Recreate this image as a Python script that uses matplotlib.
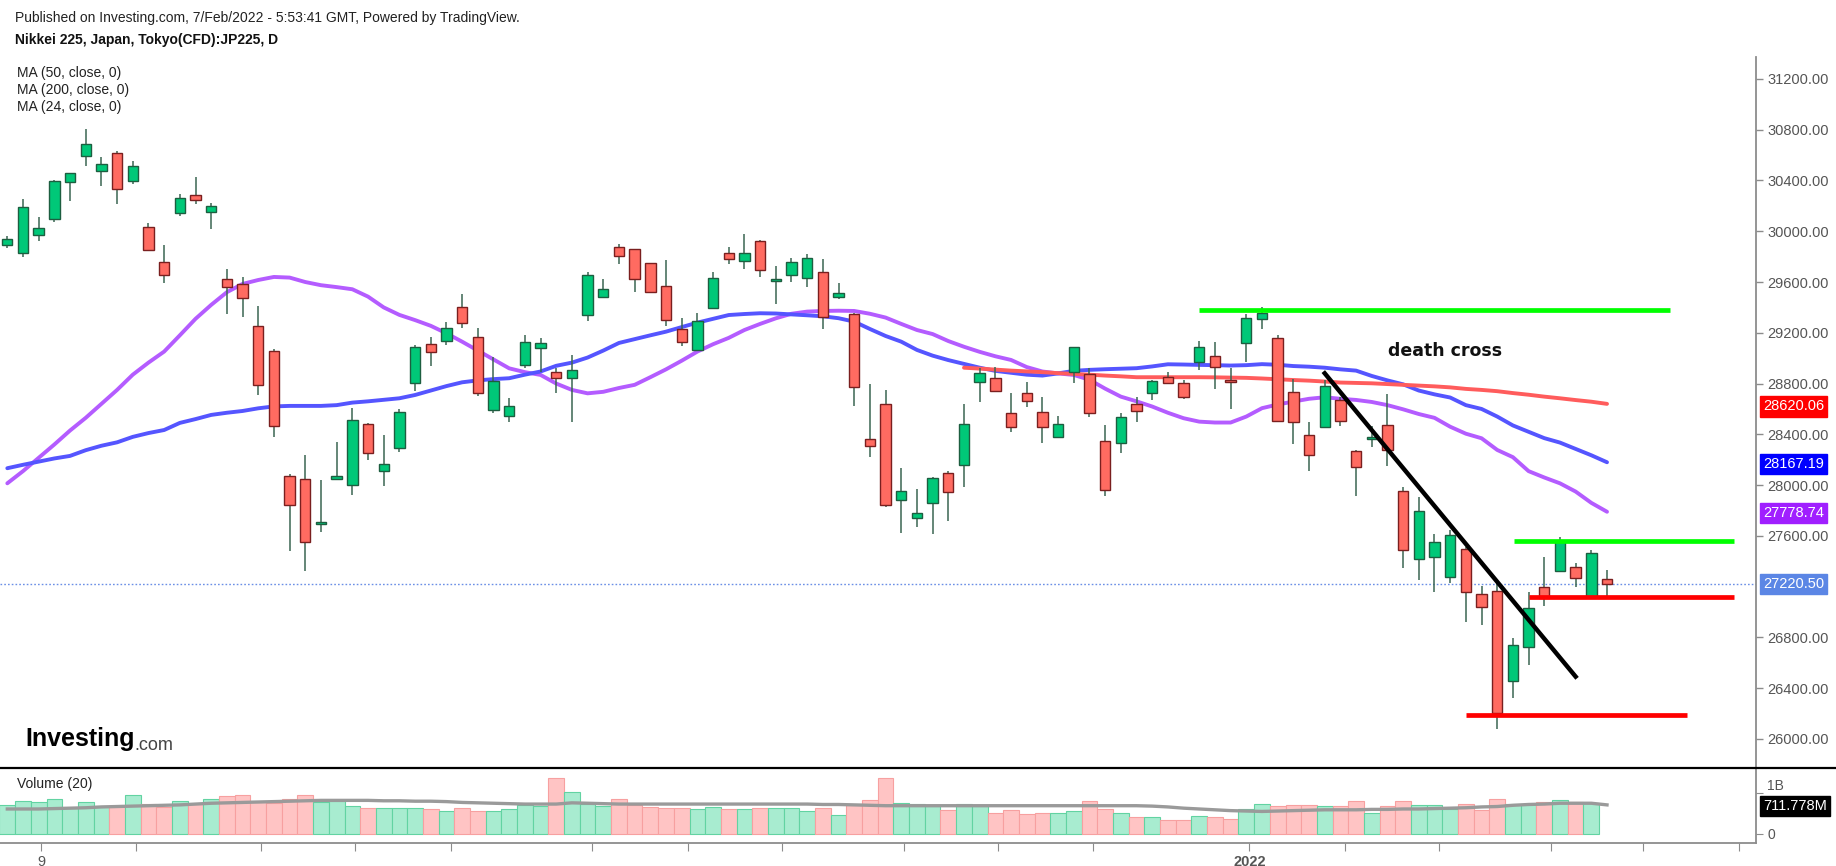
import matplotlib
matplotlib.use("Agg")
import matplotlib.pyplot as plt
from matplotlib.lines import Line2D

plt.rcParams['font.family'] = ['Liberation Sans', 'DejaVu Sans']

# daily candles, Nikkei 225 CFD
opens = [
    29892, 29832, 29971, 30099, 30386, 30593, 30475, 30614, 30396, 30031,
    29755, 30147, 30286, 30149, 29627, 29582, 29256, 29057, 28072, 28051,
    27690, 28051, 28001, 28479, 28114, 28290, 28802, 29109, 29136, 29403,
    29165, 28592, 28545, 28947, 29078, 28889, 28842, 29341, 29480, 29874,
    29858, 29748, 29569, 29228, 29065, 29393, 29826, 29766, 29923, 29611,
    29656, 29629, 29679, 29480, 29346, 28361, 28636, 27883, 27738, 27862,
    28093, 28158, 28810, 28842, 28566, 28724, 28574, 28377, 28889, 28873,
    28348, 28330, 28637, 28724, 28850, 28803, 28968, 29018, 28820, 29118,
    29307, 29157, 28732, 28395, 28461, 28671, 28269, 28361, 28474, 27954,
    27421, 27431, 27279, 27494, 27140, 27166, 26460, 26722, 27195, 27324,
    27353, 27121, 27262]
highs = [
    29960, 30252, 30115, 30404, 30462, 30803, 30588, 30635, 30556, 30063,
    29892, 30294, 30430, 30220, 29700, 29642, 29414, 29070, 28085, 28235,
    28040, 28342, 28605, 28487, 28395, 28597, 29104, 29170, 29288, 29503,
    29235, 29012, 28684, 29183, 29157, 28920, 29025, 29682, 29621, 29900,
    29860, 29750, 29774, 29319, 29354, 29682, 29879, 29979, 29931, 29729,
    29787, 29821, 29779, 29590, 29354, 28797, 28749, 28132, 27967, 28060,
    28114, 28639, 28921, 28934, 28724, 28816, 28697, 28548, 29091, 28921,
    28474, 28566, 28697, 28830, 28894, 28829, 29139, 29131, 28926, 29349,
    29406, 29183, 28834, 28500, 28828, 28697, 28277, 28466, 28718, 27988,
    27909, 27613, 27647, 27515, 27208, 27240, 26793, 27161, 27437, 27589,
    27384, 27489, 27332]
lows = [
    29870, 29800, 29926, 30076, 30241, 30514, 30359, 30215, 30373, 29847,
    29595, 30120, 30215, 30018, 29348, 29327, 28710, 28377, 27484, 27326,
    27633, 28045, 27922, 28198, 27990, 28264, 28744, 28941, 29101, 29241,
    28705, 28571, 28500, 28920, 28894, 28723, 28500, 29293, 29475, 29742,
    29524, 29515, 29256, 29099, 29060, 29388, 29742, 29703, 29643, 29427,
    29603, 29564, 29230, 29467, 28626, 28219, 27830, 27625, 27673, 27615,
    27720, 27988, 28653, 28740, 28422, 28619, 28335, 28375, 28808, 28535,
    27918, 28256, 28500, 28671, 28798, 28679, 28908, 28755, 28600, 28973,
    29230, 28500, 28325, 28114, 28455, 28466, 27917, 28303, 28153, 27350,
    27253, 27161, 27232, 26924, 26898, 26079, 26326, 26583, 27051, 27318,
    27200, 27114, 27116]
closes = [
    29937, 30194, 30023, 30399, 30457, 30685, 30527, 30336, 30514, 29853,
    29656, 30260, 30247, 30202, 29558, 29472, 28789, 28466, 27843, 27549,
    27698, 28072, 28513, 28251, 28164, 28579, 29091, 29046, 29235, 29275,
    28723, 28823, 28624, 29125, 29117, 28842, 28907, 29656, 29543, 29805,
    29624, 29519, 29301, 29125, 29293, 29629, 29784, 29826, 29695, 29614,
    29761, 29787, 29322, 29511, 28771, 28308, 27843, 27956, 27778, 28053,
    27948, 28479, 28881, 28742, 28456, 28663, 28456, 28480, 29086, 28566,
    27962, 28540, 28585, 28821, 28803, 28692, 29086, 28929, 28812, 29315,
    29354, 28508, 28495, 28237, 28781, 28505, 28140, 28364, 28277, 27489,
    27796, 27550, 27607, 27156, 27037, 26202, 26741, 27030, 27108, 27560,
    27266, 27463, 27220.5]

# moving averages as drawn on the chart
ma24 = [
    28014, 28110, 28215, 28320, 28430, 28530, 28640, 28750, 28870, 28965,
    29052, 29180, 29310, 29420, 29520, 29585, 29616, 29640, 29635, 29600,
    29575, 29560, 29543, 29485, 29400, 29341, 29300, 29255, 29196, 29130,
    29060, 28990, 28920, 28890, 28868, 28800, 28750, 28723, 28735, 28765,
    28790, 28850, 28912, 28980, 29052, 29110, 29160, 29222, 29270, 29314,
    29350, 29367, 29372, 29374, 29372, 29350, 29320, 29270, 29222, 29190,
    29135, 29090, 29050, 29015, 28986, 28930, 28895, 28880, 28868, 28830,
    28760, 28697, 28660, 28619, 28570, 28527, 28500, 28493, 28493, 28540,
    28606, 28635, 28658, 28680, 28692, 28680, 28671, 28655, 28630, 28597,
    28560, 28530, 28460, 28405, 28369, 28277, 28220, 28110, 28060, 28014,
    27949, 27860, 27790]
ma50 = [
    28133, 28160, 28185, 28210, 28230, 28275, 28310, 28337, 28380, 28410,
    28434, 28490, 28520, 28553, 28570, 28584, 28605, 28620, 28624, 28624,
    28624, 28630, 28650, 28660, 28672, 28684, 28710, 28745, 28780, 28810,
    28825, 28835, 28842, 28870, 28895, 28940, 28965, 29005, 29060, 29120,
    29150, 29180, 29209, 29245, 29280, 29310, 29340, 29348, 29354, 29352,
    29345, 29338, 29330, 29315, 29288, 29230, 29175, 29130, 29065, 29020,
    28985, 28955, 28925, 28900, 28885, 28870, 28863, 28880, 28900, 28908,
    28913, 28917, 28921, 28935, 28952, 28950, 28947, 28945, 28942, 28945,
    28953, 28948, 28938, 28933, 28925, 28912, 28902, 28860, 28825, 28794,
    28745, 28715, 28690, 28630, 28600, 28540, 28470, 28420, 28370, 28335,
    28285, 28235, 28180]
ma200_start = 61
ma200 = [
    28925, 28918, 28910, 28902, 28896, 28890, 28882, 28876, 28870, 28863,
    28857, 28850, 28850, 28850, 28850, 28850, 28849, 28847, 28845, 28840,
    28834, 28828, 28823, 28816, 28808, 28805, 28802, 28796, 28790, 28784,
    28778, 28770, 28758, 28750, 28740, 28725, 28712, 28697, 28684, 28670,
    28657, 28640]

# volume in billions, and its 20-day average
volumes = [
    0.712, 0.816, 0.776, 0.864, 0.632, 0.776, 0.672, 0.672, 0.952, 0.736,
    0.648, 0.808, 0.728, 0.864, 0.928, 0.96, 0.816, 0.744, 0.864, 0.96,
    0.776, 0.808, 0.68, 0.624, 0.624, 0.624, 0.624, 0.6, 0.568, 0.624,
    0.568, 0.568, 0.6, 0.712, 0.672, 1.376, 1.016, 0.736, 0.672, 0.864,
    0.712, 0.656, 0.624, 0.624, 0.6, 0.656, 0.6, 0.6, 0.624, 0.624,
    0.624, 0.568, 0.643, 0.468, 0.722, 0.833, 1.365, 0.762, 0.730, 0.683,
    0.595, 0.730, 0.675, 0.524, 0.595, 0.492, 0.524, 0.524, 0.563, 0.802,
    0.619, 0.524, 0.413, 0.413, 0.349, 0.349, 0.444, 0.413, 0.373, 0.619,
    0.730, 0.683, 0.706, 0.706, 0.675, 0.675, 0.802, 0.524, 0.675, 0.802,
    0.706, 0.706, 0.603, 0.730, 0.595, 0.849, 0.730, 0.730, 0.770, 0.825,
    0.770, 0.762]
vol_ma = [
    0.61, 0.61, 0.61, 0.62, 0.63, 0.64, 0.66, 0.67, 0.68, 0.69,
    0.70, 0.71, 0.73, 0.75, 0.76, 0.77, 0.78, 0.79, 0.80, 0.81,
    0.82, 0.82, 0.82, 0.82, 0.81, 0.81, 0.80, 0.80, 0.79, 0.77,
    0.76, 0.75, 0.74, 0.73, 0.73, 0.73, 0.76, 0.75, 0.74, 0.73,
    0.73, 0.73, 0.73, 0.73, 0.73, 0.73, 0.73, 0.73, 0.73, 0.73,
    0.73, 0.73, 0.72, 0.72, 0.71, 0.70, 0.69, 0.69, 0.69, 0.69,
    0.69, 0.69, 0.69, 0.69, 0.69, 0.69, 0.69, 0.69, 0.69, 0.69,
    0.69, 0.69, 0.69, 0.68, 0.66, 0.63, 0.61, 0.59, 0.57, 0.56,
    0.55, 0.56, 0.57, 0.58, 0.59, 0.59, 0.59, 0.60, 0.60, 0.61,
    0.61, 0.62, 0.63, 0.64, 0.66, 0.67, 0.70, 0.72, 0.73, 0.75,
    0.75, 0.75, 0.71]

# drawn annotations: horizontal levels (start bar, end bar, price, colour)
level_start = [76.0, 96.05, 97.05, 93.0]
level_end = [106.0, 110.1, 110.1, 107.1]
level_price = [29380, 27563, 27118, 26189]
level_color = ['#00ff00', '#00ff00', '#ff0000', '#ff0000']
trend_x = [84.0, 100.0]
trend_y = [28881, 26491]

last_price = 27220.5
price_ticks = [26000, 26400, 26800, 27600, 28000, 28400, 28800,
               29200, 29600, 30000, 30400, 30800, 31200]
date_tick_pos = [2.15, 8.2, 16.2, 22.2, 28.3, 37.3, 43.4, 49.4, 57.2,
                 63.2, 69.2, 79.2, 85.3, 91.3, 98.4, 104.3, 110.4]
date_tick_lab = ['9', '', '', '', '', '', '', '', '', '', '', '2022',
                 '', '', '', '', '']

W, H = 1836, 866
fig = plt.figure(figsize=(W / 100, H / 100), dpi=100)

def fx(x):
    return x / W

def fy(y):
    return 1 - y / H

ax = fig.add_axes([0, fy(768), fx(1756), (768 - 57) / H])
axv = fig.add_axes([0, fy(843), fx(1756), (843 - 768) / H])

n = len(closes)
xs = list(range(n))
xlim = (-0.466, 111.5)

# moving averages (under the candles)
ax.plot(xs, ma24, color='#b45cff', lw=2.8, zorder=2, solid_capstyle='round')
ax.plot(xs, ma50, color='#5555ff', lw=2.8, zorder=2, solid_capstyle='round')
ax.plot(range(ma200_start, ma200_start + len(ma200)), ma200,
        color='#ff5c5c', lw=2.8, zorder=2, solid_capstyle='round')

# candles
for i in xs:
    o, h, l, c = opens[i], highs[i], lows[i], closes[i]
    up = c >= o
    fill = '#00c878' if up else '#ff6b61'
    edge = '#1d5e40' if up else '#7a1f1f'
    ax.vlines(i, l, h, color='#3a6652', lw=1.1, zorder=3)
    body = max(abs(c - o), 16)
    ax.bar(i, body, bottom=min(o, c), width=0.66, color=fill,
           edgecolor=edge, linewidth=1.0, zorder=4)

ax.axhline(last_price, color='#6b8fe6', lw=1.0, ls=(0, (1.2, 1.5)), zorder=1)

for s, e, p, col in zip(level_start, level_end, level_price, level_color):
    ax.plot([s, e], [p, p], color=col, lw=3.4, zorder=6, solid_capstyle='butt')
ax.plot(trend_x, trend_y, color='black', lw=3.2, zorder=6)

ax.text(91.7, 29059, 'death cross', family='DejaVu Sans', weight='bold',
        fontsize=12.5, ha='center', va='center', color='#111111', zorder=7)

ax.set_xlim(*xlim)
ax.set_ylim(25771, 31373)
for side in ['top', 'left', 'bottom']:
    ax.spines[side].set_visible(False)
ax.spines['right'].set_color('#8c8c8c')
ax.spines['right'].set_linewidth(1.3)
ax.set_xticks([])
ax.yaxis.tick_right()
ax.set_yticks(price_ticks)
ax.set_yticklabels([f'{v:.2f}' for v in price_ticks])
ax.tick_params(axis='y', colors='#8c8c8c', labelcolor='#555555',
               labelsize=10.5, length=5, width=1, pad=3)

# value boxes on the price scale
box_vals = [ma200[-1] - 20, 28167.19, 27778.74, last_price]
box_text = ['28620.06', '28167.19', '27778.74', '27220.50']
box_cols = ['#ff0000', '#0000ff', '#a01fff', '#5b86e5']
ytr = ax.get_yaxis_transform()
for v, t, col in zip(box_vals, box_text, box_cols):
    ax.text(1.004, v, t, transform=ytr, ha='left', va='center',
            fontsize=10.5, color='white', clip_on=False, zorder=8,
            bbox=dict(boxstyle='square,pad=0.22', fc=col, ec=col))

# volume panel
vcols = ['#a8ecd0' if closes[i] >= opens[i] else '#ffc4c4' for i in range(len(volumes))]
vedges = ['#62d3a2' if closes[i] >= opens[i] else '#f7a0a0' for i in range(len(volumes))]
axv.bar(range(len(volumes)), volumes, width=1.0, color=vcols,
        edgecolor=vedges, linewidth=0.8, zorder=2)
axv.plot(xs, vol_ma, color='#9a9a9a', lw=2.4, zorder=3)
axv.set_xlim(*xlim)
axv.set_ylim(-0.22, 1.61)
for side in ['top', 'left']:
    axv.spines[side].set_visible(False)
for side in ['right', 'bottom']:
    axv.spines[side].set_color('#8c8c8c')
    axv.spines[side].set_linewidth(1.3)
axv.yaxis.tick_right()
axv.set_yticks([0, 1])
axv.set_yticklabels(['0', '1B'])
axv.tick_params(axis='y', colors='#8c8c8c', labelcolor='#555555',
                labelsize=10, length=5, pad=3)
# the 1B label sits just above its tick, clear of the volume value box
axv.get_yticklabels()[1].set_va('bottom')
axv.set_xticks(date_tick_pos)
axv.set_xticklabels(date_tick_lab)
axv.tick_params(axis='x', colors='#8c8c8c', labelcolor='#555555',
                labelsize=10.5, length=6, pad=3)
for lab in axv.get_xticklabels():
    if lab.get_text() == '2022':
        lab.set_fontweight('bold')
axv.text(1.004, vol_ma[-1] - 0.02, '711.778M', transform=axv.get_yaxis_transform(),
         ha='left', va='center', fontsize=10.5, color='white', clip_on=False,
         bbox=dict(boxstyle='square,pad=0.2', fc='black', ec='black'))

# panel separator
fig.add_artist(Line2D([0, 1], [fy(768), fy(768)], color='black', lw=1.6))

# header and legend texts
fig.text(fx(15), fy(18), 'Published on Investing.com, 7/Feb/2022 - 5:53:41 GMT, Powered by TradingView.',
         fontsize=10, color='#222222', va='center')
fig.text(fx(15), fy(40), 'Nikkei 225, Japan, Tokyo(CFD):JP225, D',
         fontsize=10, weight='bold', color='#111111', va='center')
for k, lab in enumerate(['MA (50, close, 0)', 'MA (200, close, 0)', 'MA (24, close, 0)']):
    fig.text(fx(17), fy(73 + 17 * k), lab, fontsize=10, color='#222222', va='center')
fig.text(fx(17), fy(784), 'Volume (20)', fontsize=10, color='#222222', va='center')

fig.text(fx(25), fy(739), 'Investing', fontsize=18, weight='bold', color='black', va='center')
fig.text(fx(134), fy(745), '.com', fontsize=13, color='#444444', va='center')

fig.savefig('out.png', dpi=100)
